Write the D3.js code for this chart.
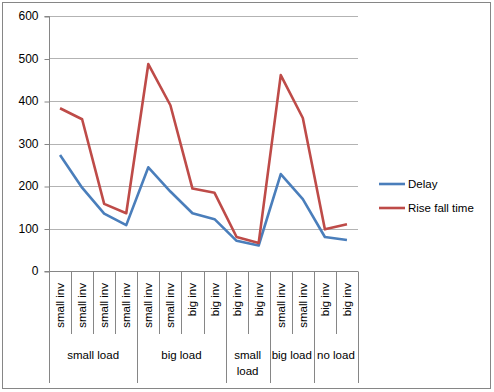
<!DOCTYPE html>
<html>
<head>
<meta charset="utf-8">
<script src="https://cdn.jsdelivr.net/npm/d3@7"></script>
<style>
body { margin: 0; background: #fff; }
text { font-family: "Liberation Sans", Arial, sans-serif; fill: #000; }
</style>
</head>
<body>
<div id="chart"></div>
<script>
// Datos del gráfico
var categorias = ["small inv", "small inv", "small inv", "small inv",
                  "small inv", "small inv", "big inv", "big inv",
                  "big inv", "big inv",
                  "small inv", "small inv",
                  "big inv", "big inv"];
var grupos = [
  { nombre: ["small load"], n: 4 },
  { nombre: ["big load"], n: 4 },
  { nombre: ["small", "load"], n: 2 },
  { nombre: ["big load"], n: 2 },
  { nombre: ["no load"], n: 2 }
];
var delay = [273, 196, 135, 108, 244, 187, 136, 122, 71, 60, 228, 169, 80, 73];
var riseFall = [383, 357, 158, 136, 487, 390, 194, 184, 80, 66, 461, 360, 98, 110];
var yTicks = [0, 100, 200, 300, 400, 500, 600];
var series = [
  { nombre: "Delay", valores: delay, color: "#4a7ebb" },
  { nombre: "Rise fall time", valores: riseFall, color: "#be4b48" }
];

var W = 494, H = 392;
var margin = { left: 49, right: 136, top: 16, bottom: 121 };

var svg = d3.select("#chart").append("svg")
    .attr("width", W).attr("height", H);

// marco exterior
svg.append("rect")
    .attr("x", 2.5).attr("y", 2.5)
    .attr("width", 488).attr("height", 386)
    .attr("fill", "#fff").attr("stroke", "#868686");

var x = d3.scaleBand()
    .domain(d3.range(categorias.length))
    .range([margin.left, W - margin.right]);

var y = d3.scaleLinear()
    .domain([0, 600])
    .range([H - margin.bottom, margin.top]);

// líneas de la cuadrícula
svg.append("g")
  .selectAll("line")
  .data(yTicks.slice(1))
  .enter().append("line")
    .attr("x1", margin.left).attr("x2", W - margin.right)
    .attr("y1", function(d) { return Math.round(y(d)) + 0.5; })
    .attr("y2", function(d) { return Math.round(y(d)) + 0.5; })
    .attr("stroke", "#b3b3b3");

// Eje Y
var yAxis = svg.append("g")
    .attr("transform", "translate(" + (margin.left + 0.5) + ",0)")
    .call(d3.axisLeft(y).tickValues(yTicks).tickSize(5).tickPadding(6));
yAxis.selectAll("text").style("font-size", "12px")
    .attr("font-family", "Liberation Sans, Arial, sans-serif");
yAxis.selectAll("line, path").attr("stroke", "#868686");
yAxis.select("path").attr("d", "M-5," + (y(600) + 0.5) + "H0V" + (y(0) + 0.5) + "H-5");
yAxis.selectAll(".tick line").attr("transform", "translate(0,0.5)");

// Eje X con categorías y grupos
var y0 = Math.round(y(0)) + 0.5;
var xa = svg.append("g");
xa.append("line")
    .attr("x1", margin.left).attr("x2", W - margin.right)
    .attr("y1", y0).attr("y2", y0)
    .attr("stroke", "#868686");

// fronteras de los grupos
var bordes = [0];
grupos.forEach(function(g) { bordes.push(bordes[bordes.length - 1] + g.n); });
var esBorde = {};
bordes.forEach(function(b) { esBorde[b] = true; });

d3.range(categorias.length + 1).forEach(function(i) {
  var xx = i === categorias.length ? x.range()[1] : x(i);
  xx = Math.round(xx) + 0.5;
  xa.append("line")
      .attr("x1", xx).attr("x2", xx)
      .attr("y1", y0).attr("y2", esBorde[i] ? 383 : 334)
      .attr("stroke", "#868686");
});

xa.selectAll("text.cat")
  .data(categorias)
  .enter().append("text")
    .attr("class", "cat")
    .attr("transform", function(d, i) {
      return "translate(" + (x(i) + x.bandwidth() / 2 + 4) + ",283) rotate(-90)";
    })
    .attr("text-anchor", "end")
    .style("font-size", "11.5px")
    .text(function(d) { return d; });

grupos.forEach(function(g, k) {
  var cx = (x(bordes[k]) + (bordes[k + 1] === categorias.length ? x.range()[1] : x(bordes[k + 1]))) / 2;
  var t = xa.append("text")
      .attr("x", cx).attr("y", 359)
      .attr("text-anchor", "middle")
      .style("font-size", "11.5px");
  g.nombre.forEach(function(linea, j) {
    t.append("tspan").attr("x", cx).attr("y", 359 + j * 16).text(linea);
  });
});

// Líneas de las series
var linea = d3.line()
    .x(function(d, i) { return x(i) + x.bandwidth() / 2; })
    .y(function(d) { return y(d); });

series.forEach(function(s) {
  svg.append("path")
      .datum(s.valores)
      .attr("d", linea)
      .attr("fill", "none")
      .attr("stroke", s.color)
      .attr("stroke-width", 2.6)
      .attr("stroke-linejoin", "round");
});

// Leyenda
var leyenda = svg.append("g");
series.forEach(function(s, i) {
  var ly = 184 + i * 24;
  leyenda.append("line")
      .attr("x1", 379).attr("x2", 405)
      .attr("y1", ly).attr("y2", ly)
      .attr("stroke", s.color).attr("stroke-width", 2.6);
  leyenda.append("text")
      .attr("x", 408).attr("y", ly + 4)
      .style("font-size", "11.5px")
      .text(s.nombre);
});
</script>
</body>
</html>
